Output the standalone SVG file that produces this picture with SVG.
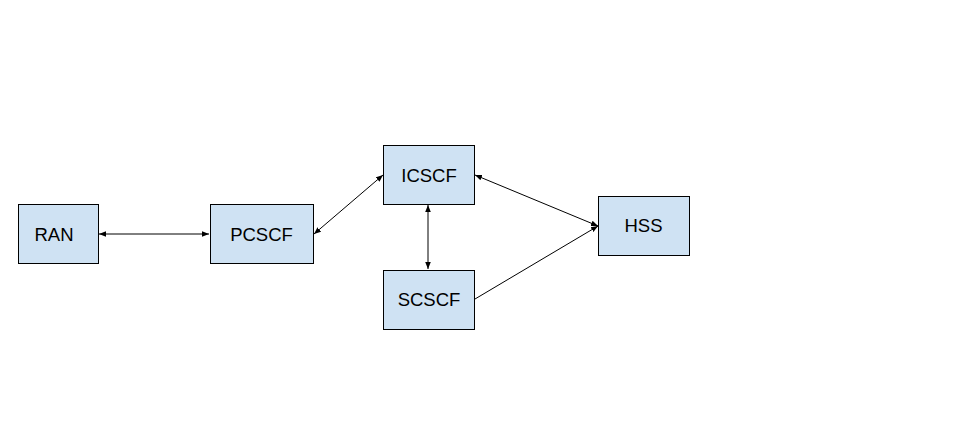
<svg xmlns="http://www.w3.org/2000/svg" width="953" height="428" viewBox="0 0 953 428">
<style>
.n rect{fill:#cfe2f3;stroke:#000;stroke-width:1}
.n text{font-family:"Liberation Sans",Arial,sans-serif;font-size:18.5px;fill:#000;text-anchor:middle;dominant-baseline:central}
.e line{stroke:#000;stroke-width:1}
</style>
<defs>
<marker id="a" viewBox="0 0 10 10" refX="10" refY="5" markerWidth="7" markerHeight="7" orient="auto-start-reverse" markerUnits="userSpaceOnUse">
<path d="M0,1 L10,5 L0,9 Z" fill="#000"/>
</marker>
</defs>
<rect width="953" height="428" fill="#fff"/>
<g class="e">
<line x1="99" y1="234" x2="209" y2="234" marker-start="url(#a)" marker-end="url(#a)"/>
<line x1="314" y1="234" x2="383" y2="175" marker-start="url(#a)" marker-end="url(#a)"/>
<line x1="428" y1="205" x2="428" y2="269" marker-start="url(#a)" marker-end="url(#a)"/>
<line x1="475" y1="175" x2="598" y2="226" marker-start="url(#a)" marker-end="url(#a)"/>
<line x1="475" y1="299" x2="598" y2="226" marker-end="url(#a)"/>
</g>
<g id="RAN" class="n"><rect x="18.5" y="204.5" width="80" height="59"/><text x="54" y="234">RAN</text></g>
<g id="PCSCF" class="n"><rect x="210.5" y="204.5" width="103" height="59"/><text x="261.5" y="234">PCSCF</text></g>
<g id="ICSCF" class="n"><rect x="383.5" y="145.5" width="91" height="59"/><text x="429" y="175">ICSCF</text></g>
<g id="SCSCF" class="n"><rect x="383.5" y="270.5" width="91" height="59"/><text x="429" y="299">SCSCF</text></g>
<g id="HSS" class="n"><rect x="598.5" y="196.5" width="91" height="59"/><text x="643.5" y="225">HSS</text></g>
</svg>
